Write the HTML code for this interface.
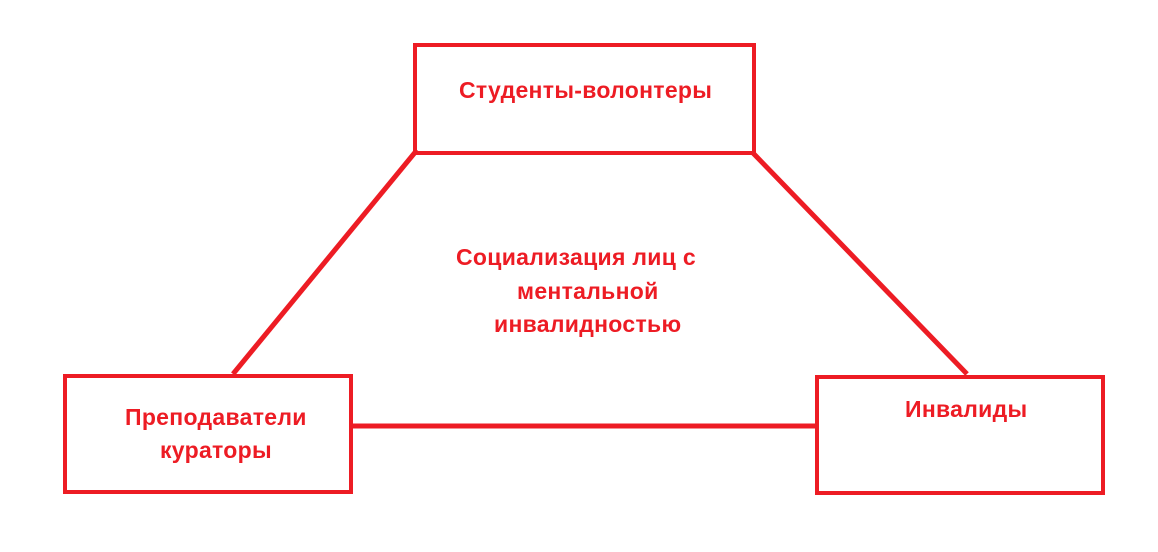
<!DOCTYPE html>
<html><head><meta charset="utf-8"><style>
html,body{margin:0;padding:0;background:#fff;}
body{width:1158px;height:552px;position:relative;overflow:hidden;font-family:"Liberation Sans",sans-serif;}
.b{position:absolute;border:4px solid #ed1c24;box-sizing:border-box;}
.t{position:absolute;color:#ed1c24;font-weight:bold;font-size:23px;letter-spacing:0.3px;white-space:nowrap;line-height:1;}
</style></head><body>
<svg width="1158" height="552" style="position:absolute;left:0;top:0">
<g stroke="#ed1c24" stroke-width="5" fill="none">
<line x1="417" y1="150" x2="233" y2="374"/>
<line x1="753" y1="153" x2="967" y2="374"/>
<line x1="351" y1="426" x2="818" y2="426"/>
</g>
</svg>
<div class="b" style="left:413px;top:43px;width:343px;height:112px"></div>
<div class="b" style="left:63px;top:374px;width:290px;height:120px"></div>
<div class="b" style="left:815px;top:375px;width:290px;height:120px"></div>
<div class="t" style="left:459px;top:79px">Студенты-волонтеры</div>
<div class="t" style="left:456px;top:246px">Социализация лиц с</div>
<div class="t" style="left:517px;top:280px">ментальной</div>
<div class="t" style="left:494px;top:313px">инвалидностью</div>
<div class="t" style="left:125px;top:406px">Преподаватели</div>
<div class="t" style="left:160px;top:439px">кураторы</div>
<div class="t" style="left:905px;top:398px">Инвалиды</div>
</body></html>
